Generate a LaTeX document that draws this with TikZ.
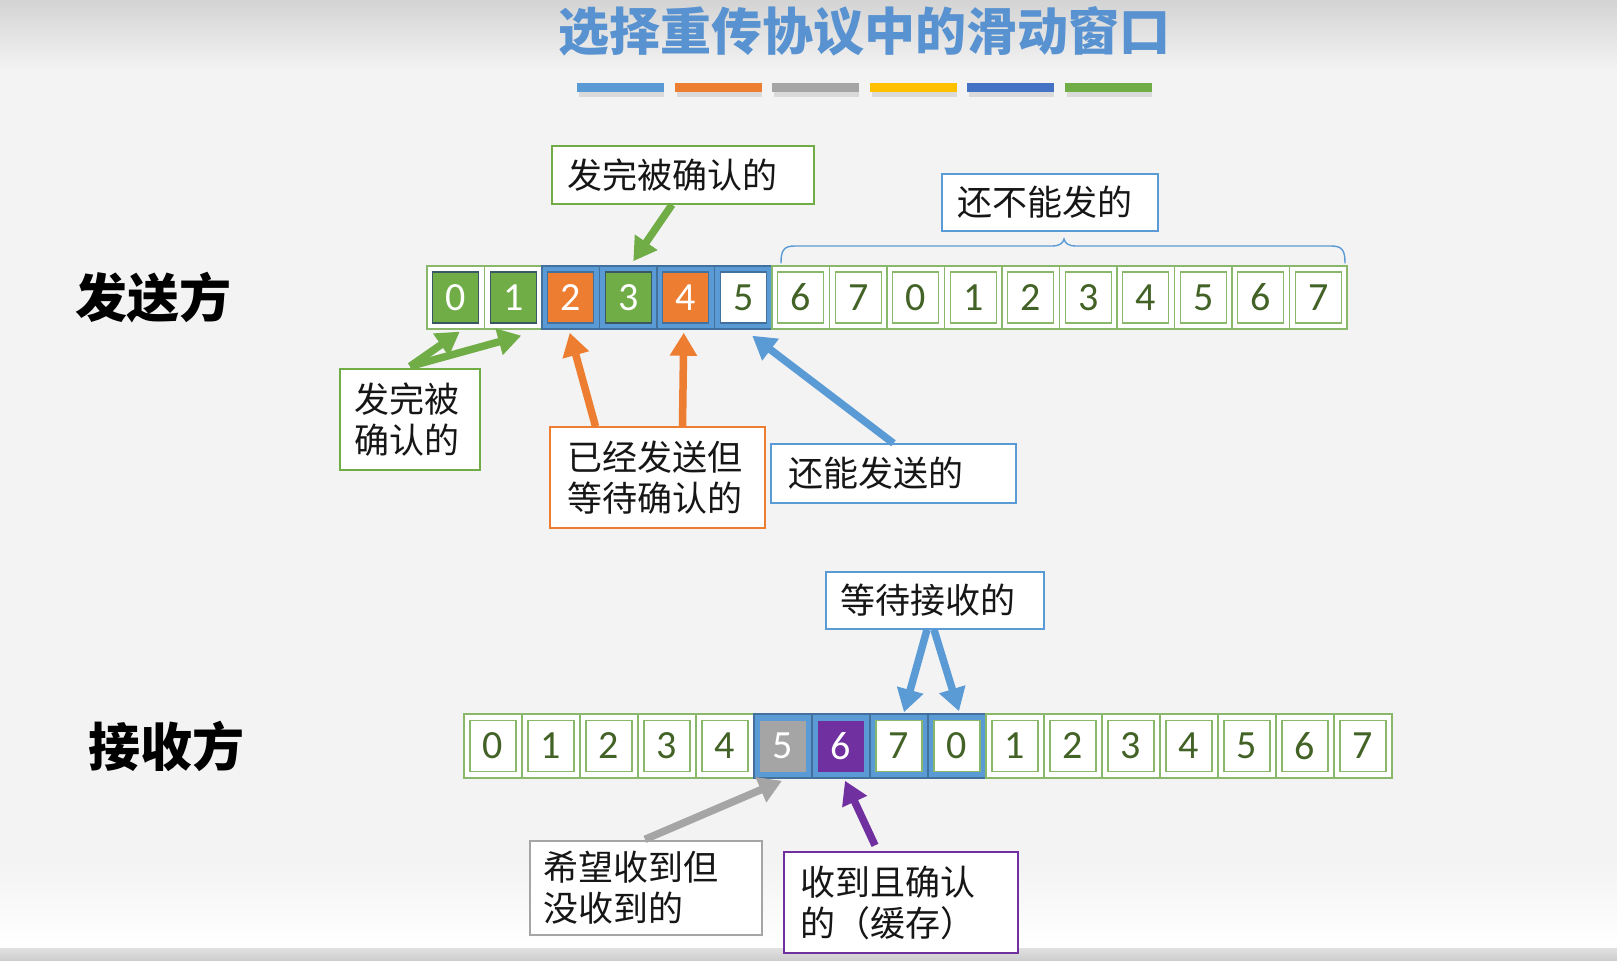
\documentclass[tikz,border=0pt]{standalone}
\usepackage{fontspec}
\setmainfont{Carlito}
\newfontfamily\cjk{Noto Sans CJK SC}
\usetikzlibrary{arrows.meta,calc}

\definecolor{cgreen}{HTML}{70AD47}
\definecolor{cgreenl}{HTML}{8AB86A}
\definecolor{cblue}{HTML}{5B9BD5}
\definecolor{cbluedk}{HTML}{41719C}
\definecolor{corange}{HTML}{ED7D31}
\definecolor{cgray}{HTML}{A5A5A5}
\definecolor{cpurple}{HTML}{7030A0}
\definecolor{cyellow}{HTML}{FFC000}
\definecolor{cnavy}{HTML}{4472C4}
\definecolor{digitgreen}{RGB}{66,98,38}
\definecolor{titleblue}{RGB}{88,146,208}
\definecolor{inkgray}{RGB}{22,22,22}
\definecolor{slate}{RGB}{58,88,100}
\definecolor{bgcol}{RGB}{243,243,243}

\tikzset{
  cell/.style={draw=cgreenl, line width=1.3pt, fill=white,
    minimum width=57.5pt, minimum height=63pt, inner sep=0pt},
  wincell/.style={draw=cbluedk, line width=1.5pt, fill=cblue,
    minimum width=57.5pt, minimum height=63pt, inner sep=0pt},
  digit/.style={minimum width=46pt, minimum height=51pt, inner sep=0pt,
    font=\fontsize{40}{40}\selectfont},
  slot/.style={digit, draw=cgreenl, line width=1.2pt, fill=white, text=digitgreen},
  donebox/.style={digit, draw=slate, line width=1.2pt, fill=cgreen, text=white},
  sentbox/.style={digit, draw=cbluedk, line width=1.2pt, fill=corange, text=white},
  freebox/.style={digit, draw=cbluedk, line width=1.2pt, fill=white, text=digitgreen},
  missbox/.style={digit, fill=cgray, text=white},
  bufbox/.style={digit, fill=cpurple, text=white},
  callout/.style={draw=#1, line width=1.3pt, fill=white, text=inkgray,
    align=left, font=\cjk\fontsize{35}{41}\selectfont, inner ysep=0pt},
  fat/.style={line width=7.5pt, draw=#1, -{Triangle[length=23pt,width=26pt]}},
}

\begin{document}
\begin{tikzpicture}[x=1pt,y=-1pt]
\useasboundingbox (0,0) rectangle (1617,961);

% page background
\fill[bgcol] (0,0) rectangle (1617,961);
\shade[top color=black!17, bottom color=bgcol] (0,0) rectangle (1617,70);
\shade[top color=bgcol, bottom color=white] (0,860) rectangle (1617,948);
\shade[top color=black!12, bottom color=black!20] (0,948) rectangle (1617,961);

% title and colour bar
\node[font=\cjk\bfseries\fontsize{51}{51}\selectfont, text=titleblue] (title) at (864,31) {选择重传协议中的滑动窗口};
\foreach \k/\c in {0/cblue,1/corange,2/cgray,3/cyellow,4/cnavy,5/cgreen}{
  \fill[black,opacity=0.10] ({579+97.5*\k},88) rectangle ++(85,9);
  \fill[\c] ({577+97.5*\k},83) rectangle ++(87,9);
}

% side labels
\node[font=\cjk\bfseries\fontsize{52}{52}\selectfont, text=black] (sender) at (153,298) {发送方};
\node[font=\cjk\bfseries\fontsize{52}{52}\selectfont, text=black] (receiver) at (166,746) {接收方};

% sender sequence
\foreach \i/\os/\is in {0/cell/donebox,1/cell/donebox,2/wincell/sentbox,3/wincell/donebox,
    4/wincell/sentbox,5/wincell/freebox,6/cell/slot,7/cell/slot,8/cell/slot,9/cell/slot,
    10/cell/slot,11/cell/slot,12/cell/slot,13/cell/slot,14/cell/slot,15/cell/slot}{
  \pgfmathtruncatemacro\d{mod(\i,8)}
  \node[\os] (s\i) at ({455.75+57.5*\i},297.5) {};
  \node[\is] (sd\i) at (s\i) {\d};
}

% receiver sequence
\foreach \i/\os/\is in {0/cell/slot,1/cell/slot,2/cell/slot,3/cell/slot,4/cell/slot,
    5/wincell/missbox,6/wincell/bufbox,7/wincell/slot,8/wincell/slot,9/cell/slot,
    10/cell/slot,11/cell/slot,12/cell/slot,13/cell/slot,14/cell/slot,15/cell/slot}{
  \pgfmathtruncatemacro\d{mod(\i,8)}
  \node[\os, minimum width=58pt, minimum height=64pt] (r\i) at ({493+58*\i},746) {};
  \node[\is] (rd\i) at (r\i) {\d};
}

% brace over the frames that cannot be sent yet
\draw[cblue, line width=1.4pt, line cap=round]
  (781,263) .. controls (781,250) and (784,246) .. (795,246) -- (1052,246)
  .. controls (1060,246) and (1063,243) .. (1064,239)
  .. controls (1065,243) and (1068,246) .. (1076,246) -- (1331,246)
  .. controls (1342,246) and (1345,250) .. (1345,263);

% sender callouts
\node[callout=cgreen, minimum width=262pt, minimum height=58pt, text width=232pt, inner xsep=15pt]
  (acked) at (683,175) {发完被确认的};
\node[callout=cblue, minimum width=216pt, minimum height=57pt, text width=186pt, inner xsep=15pt]
  (notyet) at (1050,202.5) {还不能发的};
\node[callout=cgreen, minimum width=140pt, minimum height=101pt, text width=112pt, inner xsep=14pt]
  (done) at (410,419.5) {发完被\\确认的};
\node[callout=corange, minimum width=215pt, minimum height=101pt, text width=181pt, inner xsep=17pt]
  (waiting) at (657.5,477.5) {已经发送但\\等待确认的};
\node[callout=cblue, minimum width=245pt, minimum height=59pt, text width=211pt, inner xsep=17pt]
  (cansend) at (893.5,473.5) {还能发送的};

% receiver callouts
\node[callout=cblue, minimum width=218pt, minimum height=57pt, text width=190pt, inner xsep=14pt]
  (expect) at (935,600.5) {等待接收的};
\node[callout=cgray, minimum width=232pt, minimum height=94pt, text width=206pt, inner xsep=13pt]
  (missing) at (646,888) {希望收到但\\没收到的};
\node[callout=cpurple, minimum width=234pt, minimum height=101pt, text width=202pt, inner xsep=16pt]
  (buffered) at (901,902.5) {收到且确认\\的（缓存）};

% sender arrows
\draw[fat=cgreen] ($(acked.south)+(-11,0)$) -- ($(s3.north)+(5,-4)$);
\draw[fat=cgreen] ($(done.north)+(0,-2)$) -- ($(s0.south)+(4,2)$);
\draw[fat=cgreen] ($(done.north)+(0,-2)$) -- ($(s1.south)+(8,6)$);
\draw[fat=corange] ($(waiting.north)+(-62,0)$) -- ($(s2.south)+(-1,3)$);
\draw[fat=corange] ($(waiting.north)+(25,0)$) -- ($(s4.south)+(-2,3)$);
\draw[fat=cblue] (cansend.north) -- ($(s5.south)+(9,6)$);

% receiver arrows
\draw[fat=cblue] ($(expect.south)+(-8,0)$) -- ($(r7.north)+(5,-1)$);
\draw[fat=cblue] ($(expect.south)+(-1,0)$) -- ($(r8.north)+(2,-2)$);
\draw[fat=cgray] ($(missing.north)+(-1,-1)$) -- ($(r5.south)+(-1,2)$);
\draw[fat=cpurple] ($(buffered.north)+(-26,-6)$) -- ($(r6.south)+(4,2)$);
\end{tikzpicture}
\end{document}
